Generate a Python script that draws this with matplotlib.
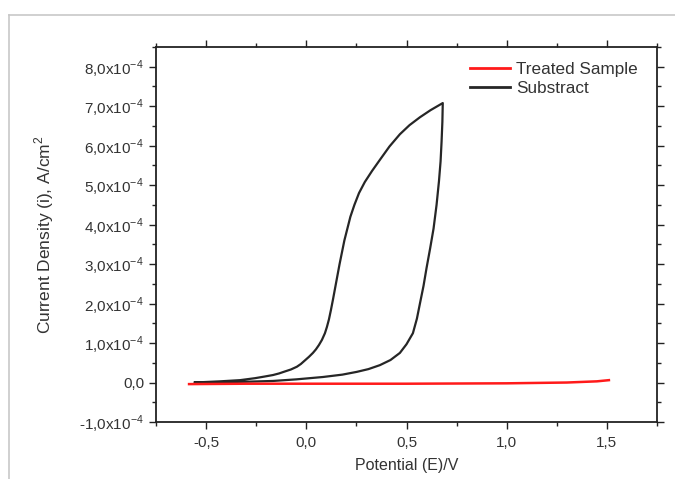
import matplotlib
matplotlib.use("Agg")
import matplotlib.pyplot as plt
from matplotlib.lines import Line2D
from matplotlib.ticker import MultipleLocator
import numpy as np

plt.rcParams['font.family'] = ['Liberation Sans', 'DejaVu Sans']
plt.rcParams['mathtext.fontset'] = 'custom'
plt.rcParams['mathtext.rm'] = 'Liberation Sans'

# ---- data (potential in V, current density in 1e-4 A/cm^2) ----
sub_fwd_E = [-0.556, -0.48, -0.416, -0.30, -0.166, -0.05, 0.083, 0.18, 0.252, 0.31, 0.367, 0.42,
             0.467, 0.50, 0.532, 0.552, 0.567, 0.585, 0.600, 0.618, 0.635, 0.650, 0.662, 0.670,
             0.675, 0.679, 0.681]
sub_fwd_i = [0.00, 0.005, 0.01, 0.02, 0.04, 0.08, 0.14, 0.20, 0.27, 0.34, 0.44, 0.57,
             0.75, 0.97, 1.25, 1.62, 2.00, 2.45, 2.90, 3.40, 3.90, 4.50, 5.10, 5.60,
             6.10, 6.60, 7.08]
sub_rev_E = [0.681, 0.62, 0.567, 0.515, 0.467, 0.415, 0.367, 0.328, 0.292, 0.263, 0.240, 0.220,
             0.205, 0.190, 0.178, 0.166, 0.155, 0.144, 0.133, 0.123, 0.113, 0.103, 0.093, 0.078,
             0.063, 0.048, 0.033, 0.013, -0.007, -0.027, -0.047, -0.077, -0.107, -0.136, -0.166,
             -0.21, -0.256, -0.331, -0.431, -0.516, -0.556]
sub_rev_i = [7.08, 6.90, 6.72, 6.52, 6.29, 5.98, 5.64, 5.36, 5.08, 4.80, 4.50, 4.20,
             3.90, 3.60, 3.30, 3.00, 2.70, 2.40, 2.10, 1.84, 1.60, 1.41, 1.25, 1.08,
             0.95, 0.84, 0.75, 0.65, 0.56, 0.47, 0.40, 0.33, 0.28, 0.23, 0.19,
             0.15, 0.11, 0.06, 0.03, 0.01, 0.00]

treated_E = [-0.585, -0.3, 0.0, 0.5, 1.0, 1.3, 1.45, 1.51]
treated_i = [-0.04, -0.03, -0.03, -0.03, -0.02, 0.00, 0.03, 0.06]

x_ticks = [-0.5, 0.0, 0.5, 1.0, 1.5]
x_ticklabels = ['-0,5', '0,0', '0,5', '1,0', '1,5']
y_ticks = [-1, 0, 1, 2, 3, 4, 5, 6, 7, 8]
y_ticklabels = [r'-1,0x10$^{-4}$', '0,0', r'1,0x10$^{-4}$', r'2,0x10$^{-4}$', r'3,0x10$^{-4}$',
                r'4,0x10$^{-4}$', r'5,0x10$^{-4}$', r'6,0x10$^{-4}$', r'7,0x10$^{-4}$', r'8,0x10$^{-4}$']
scale = 1e-4

fig = plt.figure(figsize=(6.75, 4.79), dpi=100)
# outer light frame
fig.add_artist(Line2D([9/675, 9/675], [0, 1 - 15/479], color='#c8c8c8', lw=1.2, transform=fig.transFigure))
fig.add_artist(Line2D([9/675, 1], [1 - 15/479, 1 - 15/479], color='#c8c8c8', lw=1.2, transform=fig.transFigure))

ax = fig.add_axes([156/675, 1 - 422/479, (657 - 156)/675, (422 - 47)/479])

ax.plot(treated_E, np.array(treated_i) * scale, color='#ff1a1a', lw=1.8, label='Treated Sample', zorder=3)
sub_E = sub_fwd_E + sub_rev_E[1:]
sub_i = sub_fwd_i + sub_rev_i[1:]
ax.plot(sub_E, np.array(sub_i) * scale, color='#262626', lw=1.6, label='Substract', zorder=2)

ax.set_xlim(-0.75, 1.75)
ax.set_ylim(-1.0e-4, 8.5e-4)
ax.set_xticks(x_ticks)
ax.set_xticklabels(x_ticklabels)
ax.set_yticks(np.array(y_ticks) * scale)
ax.set_yticklabels(y_ticklabels)
ax.xaxis.set_minor_locator(MultipleLocator(0.25))
ax.yaxis.set_minor_locator(MultipleLocator(0.5e-4))

ax.tick_params(which='both', direction='out', top=True, right=True, color='#222222', width=1.0,
               labelsize=11, labelcolor='#333333')
ax.tick_params(which='major', length=5)
ax.tick_params(which='minor', length=3)
ax.tick_params(axis='x', pad=5)
for s in ax.spines.values():
    s.set_linewidth(1.3)
    s.set_color('#222222')

ax.set_xlabel('Potential (E)/V', fontsize=11.5, color='#333333', labelpad=6)
ax.set_ylabel(r'Current Density (i), A/cm$^2$', fontsize=12.5, color='#333333', labelpad=17)

leg = ax.legend(loc='upper right', frameon=False, fontsize=12.3, handlelength=2.3,
                handletextpad=0.4, labelspacing=0.22, borderaxespad=0.5,
                bbox_to_anchor=(0.993, 1.0))
for t in leg.get_texts():
    t.set_color('#333333')
for h in leg.legend_handles:
    h.set_linewidth(2.0)

fig.savefig('out.png', dpi=100)
